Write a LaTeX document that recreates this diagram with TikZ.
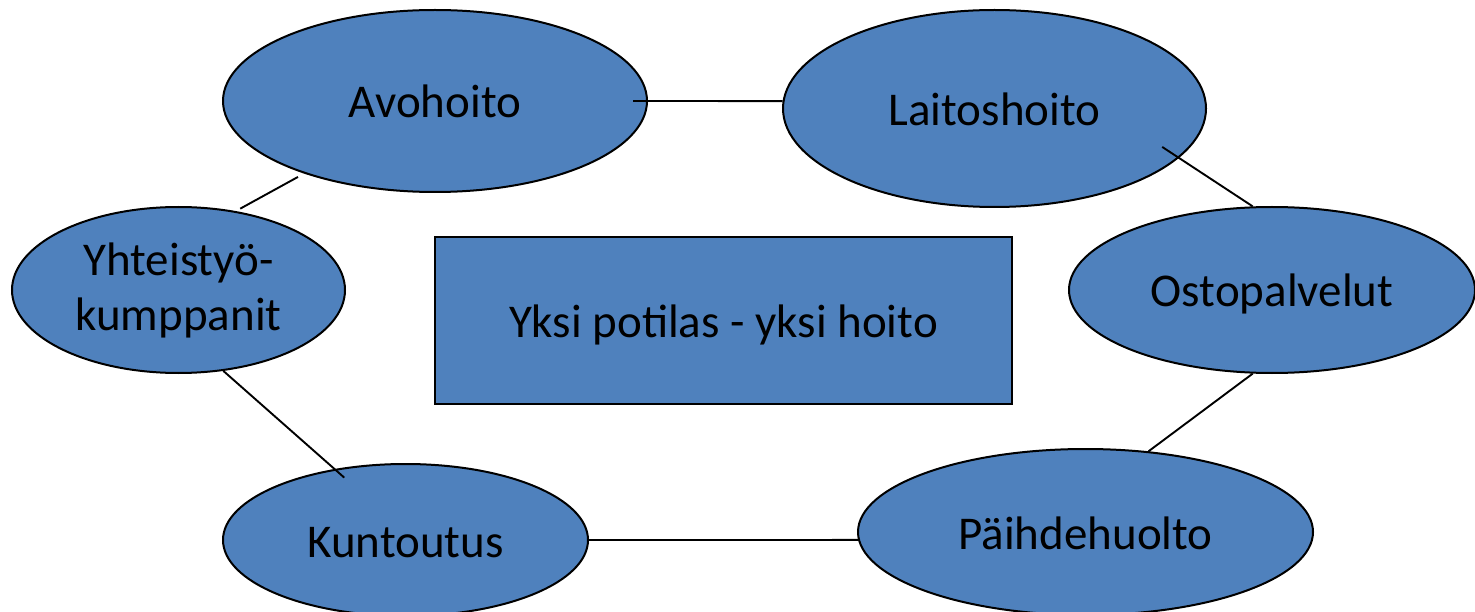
\documentclass[tikz,border=0pt]{standalone}
\usepackage{fontspec}
\setmainfont{Carlito}
\usetikzlibrary{shapes.geometric}
\definecolor{sininen}{HTML}{4F81BD}
\tikzset{
  osa/.style={ellipse, draw=black, line width=2pt, fill=sininen, inner sep=0pt, align=center, text height=42pt, text depth=8pt, font=\fontsize{47}{55}\selectfont},
  keski/.style={rectangle, draw=black, line width=2pt, fill=sininen, inner sep=0pt, text height=42pt, text depth=8pt, font=\fontsize{47}{55}\selectfont},
  yhteys/.style={line width=1.9pt}
}

\begin{document}
\begin{tikzpicture}[x=1pt, y=-1pt]
	%%%%% START %%%%%
	\useasboundingbox (0,0) rectangle (1475,612);
	
	\node[keski, minimum width=577pt, minimum height=167pt] (hoito) at (723.5,320.5) {Yksi potilas - yksi hoito};
	
	\node[osa, minimum width=424pt, minimum height=182pt] (avo) at (435,101) {Avohoito};
	\node[osa, minimum width=423pt, minimum height=197pt] (lai) at (994.5,108.5) {Laitoshoito};
	\node[osa, minimum width=406pt, minimum height=166pt] (osto) at (1272,290) {Ostopalvelut};
	\node[osa, minimum width=455pt, minimum height=166pt] (pai) at (1085.5,532) {Päihdehuolto};
	\node[osa, minimum width=365pt, minimum height=152pt] (kun) at (405.5,540) {Kuntoutus};
	\node[osa, minimum width=333pt, minimum height=166pt, text height=, text depth=] (yht) at (178.5,290) {Yhteistyö-\\kumppanit};
	
	% yhteydet
	\draw[yhteys, shorten <=-15pt] (avo.east) -- (lai.178);
	\draw[yhteys, shorten <=-20pt] (lai.-15) -- (osto.103.5);
	\draw[yhteys] (osto.-103.5) -- (pai.52);
	\draw[yhteys] (pai.182) -- (kun.east);
	\draw[yhteys, shorten >=-13pt] (yht.-61.5) -- (kun.135);
	\draw[yhteys, shorten <=5pt, shorten >=7pt] (yht.54) -- (avo.209);
	
	%%%%% END %%%%%
\end{tikzpicture}
\end{document}
